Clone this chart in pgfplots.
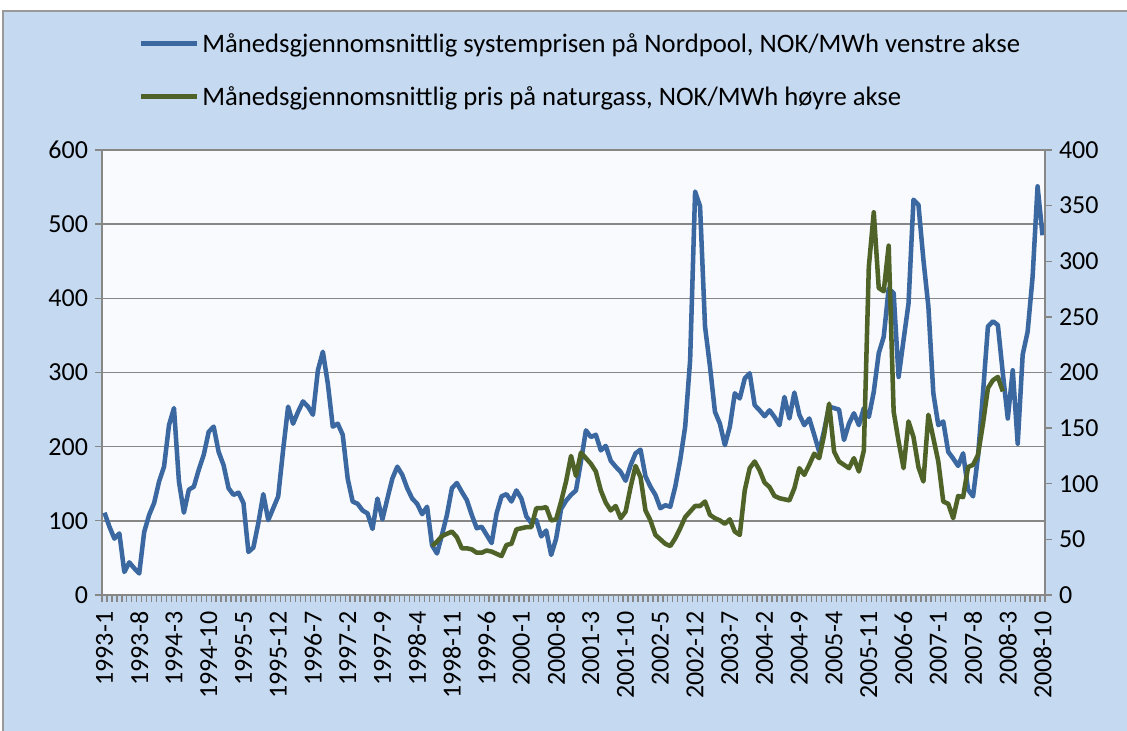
\documentclass[border=0pt]{standalone}
\usepackage{pgfplots}
\usepackage{pgfplotstable}
\pgfplotsset{compat=1.18}
\usepackage{fontspec}
\setmainfont{Carlito}
\definecolor{bg}{HTML}{C5D9F1}
\definecolor{plotbg}{HTML}{F8FAFD}
\definecolor{gridc}{HTML}{878787}
\definecolor{blueline}{HTML}{3B68A0}
\definecolor{greenline}{HTML}{4F6228}

\pgfplotstableread{
i v
0 111
1 92
2 76
3 83
4 31
5 44
6 36
7 29
8 85
9 108
10 124
11 153
12 173
13 229
14 252
15 153
16 111
17 142
18 146
19 169
20 189
21 220
22 227
23 193
24 175
25 144
26 135
27 138
28 124
29 58
30 64
31 97
32 136
33 101
34 117
35 133
36 196
37 254
38 231
39 247
40 261
41 254
42 243
43 303
44 328
45 285
46 227
47 231
48 216
49 157
50 126
51 123
52 114
53 110
54 89
55 130
56 102
57 130
58 157
59 173
60 162
61 144
62 130
63 123
64 109
65 119
66 67
67 56
68 81
69 108
70 144
71 151
72 139
73 128
74 108
75 90
76 92
77 81
78 70
79 110
80 133
81 136
82 126
83 141
84 130
85 106
86 97
87 101
88 79
89 87
90 54
91 76
92 116
93 127
94 135
95 141
96 180
97 222
98 213
99 216
100 195
101 201
102 181
103 173
104 166
105 154
106 175
107 191
108 196
109 160
110 146
111 135
112 117
113 121
114 119
115 146
116 182
117 227
118 317
119 544
120 524
121 362
122 308
123 247
124 231
125 202
126 227
127 272
128 265
129 292
130 299
131 256
132 249
133 241
134 249
135 240
136 229
137 267
138 238
139 273
140 243
141 229
142 238
143 216
144 193
145 222
146 254
147 252
148 250
149 209
150 231
151 245
152 229
153 252
154 240
155 274
156 326
157 348
158 413
159 407
160 294
161 344
162 393
163 533
164 526
165 452
166 389
167 272
168 229
169 234
170 193
171 184
172 174
173 191
174 142
175 133
176 187
177 272
178 362
179 369
180 364
181 299
182 238
183 303
184 204
185 324
186 355
187 429
188 551
189 485
}\nordpool

\pgfplotstableread{
i v
66 44
67 48
68 53
69 55
70 57
71 52
72 42
73 42
74 41
75 38
76 38
77 40
78 39
79 37
80 35
81 45
82 46
83 59
84 60
85 61
86 61
87 78
88 78
89 79
90 67
91 68
92 84
93 102
94 125
95 107
96 128
97 123
98 118
99 111
100 94
101 83
102 76
103 80
104 69
105 75
106 97
107 116
108 106
109 76
110 67
111 54
112 50
113 46
114 44
115 51
116 60
117 70
118 75
119 80
120 80
121 84
122 72
123 69
124 67
125 64
126 68
127 57
128 54
129 94
130 114
131 120
132 112
133 101
134 97
135 89
136 87
137 86
138 85
139 96
140 114
141 108
142 117
143 127
144 123
145 144
146 172
147 129
148 120
149 117
150 114
151 123
152 111
153 130
154 295
155 344
156 276
157 273
158 314
159 165
160 138
161 114
162 156
163 142
164 115
165 102
166 162
167 141
168 120
169 84
170 82
171 69
172 89
173 88
174 115
175 117
176 126
177 154
178 186
179 193
180 196
181 183
}\gas

\pgfplotsset{
  common/.style={
    at={(76.5pt,102pt)}, anchor=south west,
    scale only axis, width=707.25pt, height=333.75pt,
    xmin=-0.5, xmax=189.5,
    /pgf/number format/assume math mode=true,
    ticklabel style={font=\fontsize{19.5}{22}\selectfont},
    tick style={draw=gridc, line width=1pt},
    tick align=outside,
    major tick length=5pt,
  }
}

\begin{document}
\begin{tikzpicture}
\path[use as bounding box] (0pt,0pt) rectangle (845.25pt,548.25pt);
\fill[white] (0pt,0pt) rectangle (845.25pt,548.25pt);
\fill[bg] (2.25pt,0pt) rectangle (845.25pt,540pt);
\draw[gray!80, line width=1pt] (2.25pt,0pt) -- (2.25pt,540pt) -- (845.25pt,540pt);

\begin{axis}[common,
  ymin=0, ymax=600,
  ytick={0,100,...,600},
  ymajorgrids,
  grid style={draw=gridc, line width=1.2pt},
  axis line style={draw=gridc, line width=1.2pt},
  axis background/.style={fill=plotbg},
  xtick={-0.5,0.5,...,189.5},
  xticklabels={},
  xtick pos=bottom,
  ytick pos=left,
  yticklabel shift=2pt,
  extra x ticks={0,7,...,189},
  extra x tick labels={1993-1,1993-8,1994-3,1994-10,1995-5,1995-12,1996-7,1997-2,1997-9,1998-4,1998-11,1999-6,2000-1,2000-8,2001-3,2001-10,2002-5,2002-12,2003-7,2004-2,2004-9,2005-4,2005-11,2006-6,2007-1,2007-8,2008-3,2008-10},
  extra x tick style={major tick length=0pt, xticklabel style={rotate=90, anchor=east}, xticklabel shift=9pt},
]
\addplot[blueline, line width=3.4pt, line join=round, no marks] table[x=i, y=v] {\nordpool};
\end{axis}

\begin{axis}[common,
  ymin=0, ymax=400,
  ytick={0,50,...,400},
  axis y line*=right,
  axis x line=none,
  axis line style={draw=gridc, line width=1.2pt},
  yticklabel shift=2pt,
  legend style={draw=none, fill=none, at={(0.034,1.275)}, anchor=north west,
    font=\fontsize{20}{24}\selectfont, row sep=20pt},
  legend cell align=left,
  legend image code/.code={\draw[#1, line width=4pt] (0pt,0pt) -- (42pt,0pt);},
]
\addlegendimage{blueline, line width=4pt}
\addlegendentry{Månedsgjennomsnittlig systemprisen på Nordpool, NOK/MWh venstre akse}
\addplot[greenline, line width=3.4pt, line join=round, no marks] table[x=i, y=v] {\gas};
\addlegendentry{Månedsgjennomsnittlig pris på naturgass, NOK/MWh høyre akse}
\end{axis}
\end{tikzpicture}
\end{document}
